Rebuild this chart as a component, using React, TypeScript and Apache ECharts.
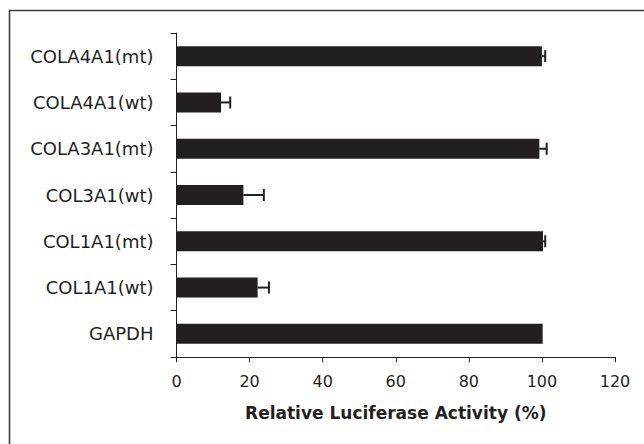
import React, { useEffect, useRef } from "react";
import * as echarts from "echarts";

const categories = [
  "COLA4A1(mt)",
  "COLA4A1(wt)",
  "COLA3A1(mt)",
  "COL3A1(wt)",
  "COL1A1(mt)",
  "COL1A1(wt)",
  "GAPDH",
];
const activity = [100.0, 12.2, 99.3, 18.3, 100.3, 22.2, 100.2];
const errors = [0.9, 2.5, 2.0, 5.6, 0.6, 3.1, 0];
const xTicks = [0, 20, 40, 60, 80, 100, 120];
const xTitle = "Relative Luciferase Activity (%)";

const INK = "#231f20";

export default function App() {
  const ref = useRef<HTMLDivElement>(null);
  useEffect(() => {
    if (!ref.current) return;
    const chart = echarts.init(ref.current, undefined, { renderer: "svg" });
    const errData = activity.map((v, i) => [v, i, errors[i]]);
    chart.setOption({
      animation: false,
      backgroundColor: "#ffffff",
      graphic: [
        {
          type: "rect",
          shape: { x: 9.5, y: 10.5, width: 1000, height: 1000 },
          style: { fill: "none", stroke: "#3c3c3c", lineWidth: 1.6 },
          silent: true,
        },
      ],
      grid: { left: 176.5, right: 29, top: 33, bottom: 87, containLabel: false },
      xAxis: {
        type: "value",
        min: xTicks[0],
        max: xTicks[xTicks.length - 1],
        interval: 20,
        splitLine: { show: false },
        axisLine: { show: true, lineStyle: { color: INK, width: 1 } },
        axisTick: { show: true, length: 5, lineStyle: { color: INK, width: 1 } },
        axisLabel: {
          color: INK,
          fontFamily: "DejaVu Sans",
          fontSize: 16,
          margin: 16,
        },
        name: xTitle,
        nameLocation: "middle",
        nameGap: 47,
        nameTextStyle: {
          color: INK,
          fontFamily: "DejaVu Sans",
          fontWeight: "bold",
          fontSize: 17,
        },
      },
      yAxis: {
        type: "category",
        data: categories,
        inverse: true,
        axisLine: { show: true, lineStyle: { color: INK, width: 1 } },
        axisTick: { show: true, length: 6, lineStyle: { color: INK, width: 1 } },
        axisLabel: {
          color: INK,
          fontFamily: "DejaVu Sans",
          fontSize: 18,
          margin: 23,
        },
      },
      series: [
        {
          type: "bar",
          data: activity,
          barWidth: 20,
          itemStyle: { color: INK },
        },
        {
          type: "custom",
          data: errData,
          z: 5,
          renderItem: (params: any, api: any) => {
            const v = api.value(0);
            const idx = api.value(1);
            const e = api.value(2);
            if (!e) return null;
            const start = api.coord([v, idx]);
            const end = api.coord([v + e, idx]);
            const h = 6;
            const style = { stroke: INK, lineWidth: 2 };
            return {
              type: "group",
              children: [
                {
                  type: "line",
                  shape: { x1: start[0], y1: start[1], x2: end[0], y2: end[1] },
                  style,
                },
                {
                  type: "line",
                  shape: { x1: end[0], y1: end[1] - h, x2: end[0], y2: end[1] + h },
                  style,
                },
              ],
            };
          },
        },
      ],
    });
    return () => chart.dispose();
  }, []);
  return (
    <div
      ref={ref}
      style={{ position: "absolute", left: 0, top: 0, width: 644, height: 444 }}
    />
  );
}
